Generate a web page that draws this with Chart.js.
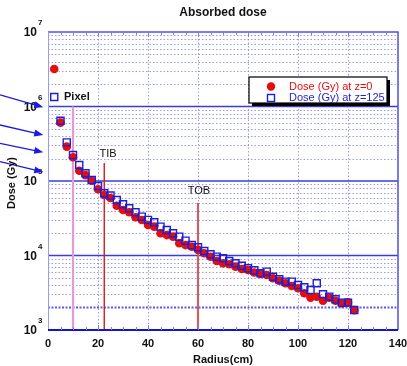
<!DOCTYPE html>
<html><head><meta charset="utf-8">
<script src="https://cdn.jsdelivr.net/npm/chart.js@4"></script>
<style>html,body{margin:0;padding:0;background:#fff}#wrap{width:407px;height:366px}</style>
</head><body><div id="wrap"><canvas id="c" width="407" height="366"></canvas></div>
<script>
const radiusCm = [2.5,5,7.5,10,12.5,15,17.5,20,22.5,25,27.5,30,32.5,35,37.5,40,42.5,45,47.5,50,52.5,55,57.5,60,62.5,65,67.5,70,72.5,75,77.5,80,82.5,85,87.5,90,92.5,95,97.5,100,102.5,105,107.5,110,112.5,115,117.5,120,122.5];
const doseZ0 = [3.18e6,6.07e5,2.89e5,2.08e5,1.37e5,1.20e5,1.01e5,7.74e4,6.49e4,5.91e4,4.66e4,4.08e4,3.80e4,3.26e4,3.00e4,2.57e4,2.44e4,1.99e4,1.88e4,1.79e4,1.46e4,1.38e4,1.31e4,1.19e4,1.07e4,9.64e3,8.44e3,7.85e3,7.62e3,7.08e3,6.59e3,6.39e3,5.91e3,5.65e3,5.47e3,4.94e3,4.59e3,4.24e3,3.90e3,3.63e3,3.11e3,2.72e3,2.80e3,2.47e3,2.72e3,2.47e3,2.28e3,2.35e3,1.85e3];
const doseZ125 = [1.34e6,6.44e5,3.30e5,2.23e5,1.64e5,1.27e5,1.03e5,8.57e4,6.84e4,6.38e4,5.56e4,4.87e4,4.30e4,3.80e4,3.32e4,3.00e4,2.79e4,2.44e4,2.20e4,1.99e4,1.79e4,1.58e4,1.38e4,1.29e4,1.15e4,1.04e4,9.64e3,9.16e3,8.44e3,7.85e3,7.29e3,6.73e3,6.33e3,5.77e3,6.07e3,5.19e3,4.80e3,4.45e3,4.45e3,4.02e3,3.74e3,3.44e3,4.24e3,3.01e3,2.80e3,2.58e3,2.33e3,2.33e3,1.85e3];
const seriesNames = ['Dose (Gy) at z=0','Dose (Gy) at z=125'];
const xTickValues = [0,20,40,60,80,100,120,140];
const yDecades = [1e3,1e4,1e5,1e6,1e7];
const yExponents = ['3','4','5','6','7'];
const detectorNames = ['Pixel','TIB','TOB'];
const detectorX = [10,22.5,60];
const detectorTop = [1e6,1.75e5,5.07e4];
const labelX = [6.4,24,60.4];
const labelY = [1.34e6,2.3e5,7.35e4];
const arrowFromY = [1.43e6,5.65e5,3.21e5,1.82e5];
const arrowToY = [9.8e5,4.14e5,2.43e5,1.32e5];
const limitDose = 2e3;

const FONT = '"Liberation Sans", Arial, Helvetica, sans-serif';
const RED = '#e60d0d', BLUE = '#1e1ed2';

const pts = (xs, ys) => xs.map((v,i)=>({x:v,y:ys[i]}));

const deco = {
  id:'deco',
  beforeDatasetsDraw(chart){
    const {ctx, chartArea:a, scales:{x,y}} = chart;
    ctx.save();
    ctx.lineWidth = 1;
    ctx.strokeStyle = 'rgba(120,120,235,0.75)';
    ctx.setLineDash([1.5,2]);
    for (let d=0; d<yDecades.length-1; d++){
      for (let m=2;m<=9;m++){
        const v = m*yDecades[d];
        if (v===limitDose) continue;
        const py = Math.round(y.getPixelForValue(v))+0.5;
        ctx.beginPath(); ctx.moveTo(a.left,py); ctx.lineTo(a.right,py); ctx.stroke();
      }
    }
    for (const v of xTickValues){
      if (v===0||v===140) continue;
      const px = Math.round(x.getPixelForValue(v))+0.5;
      ctx.beginPath(); ctx.moveTo(px,a.top); ctx.lineTo(px,a.bottom); ctx.stroke();
    }
    ctx.strokeStyle = '#5a5ae6'; ctx.lineWidth = 2; ctx.setLineDash([2,1.5]);
    let py = y.getPixelForValue(limitDose);
    ctx.beginPath(); ctx.moveTo(a.left,py); ctx.lineTo(a.right,py); ctx.stroke();
    ctx.setLineDash([]); ctx.strokeStyle = '#3c3cd8'; ctx.lineWidth = 1.5;
    for (const v of yDecades.slice(1,-1)){
      py = y.getPixelForValue(v);
      ctx.beginPath(); ctx.moveTo(a.left,py); ctx.lineTo(a.right,py); ctx.stroke();
    }
    ctx.restore();
  },
  afterDraw(chart){
    const {ctx, chartArea:a, scales:{x,y}} = chart;
    ctx.save();
    ctx.lineWidth = 1.5; ctx.strokeStyle = '#5050e0';
    ctx.beginPath(); ctx.moveTo(a.left,a.top); ctx.lineTo(a.right,a.top); ctx.lineTo(a.right,a.bottom); ctx.stroke();
    ctx.strokeStyle = '#9a9af0'; ctx.lineWidth = 1;
    ctx.beginPath(); ctx.moveTo(a.left+0.5,a.top); ctx.lineTo(a.left+0.5,a.bottom); ctx.stroke();
    ctx.strokeStyle = '#1414d0'; ctx.lineWidth = 2;
    ctx.beginPath(); ctx.moveTo(a.left,a.bottom); ctx.lineTo(a.right,a.bottom); ctx.stroke();
    ctx.lineWidth = 1; ctx.strokeStyle = '#8080e8';
    for (let v=5; v<140; v+=5){
      const px = Math.round(x.getPixelForValue(v))+0.5;
      const L = (v%20===0)?5:3;
      ctx.beginPath(); ctx.moveTo(px,a.bottom); ctx.lineTo(px,a.bottom-L); ctx.moveTo(px,a.top); ctx.lineTo(px,a.top+L); ctx.stroke();
    }
    ctx.fillStyle = '#111';
    yDecades.forEach((v,i)=>{
      const py = y.getPixelForValue(v);
      ctx.font = 'bold 12px '+FONT; ctx.textAlign='right'; ctx.textBaseline='middle';
      ctx.fillText('10', a.left-11, py+1);
      ctx.font = 'bold 8px '+FONT; ctx.textAlign='left';
      ctx.fillText(yExponents[i], a.left-10, py-9);
    });
    detectorNames.forEach((t,i)=>{
      const px = x.getPixelForValue(labelX[i]), py = y.getPixelForValue(labelY[i]);
      ctx.fillStyle = '#111';
      if (i===0){ ctx.font='bold 11px '+FONT; ctx.textAlign='left'; }
      else { ctx.font='11px '+FONT; ctx.textAlign='center'; }
      ctx.textBaseline='middle';
      ctx.fillText(t, px, py);
    });
    ctx.strokeStyle = '#1a1ae0'; ctx.fillStyle='#1a1ae0'; ctx.lineWidth=1.3;
    arrowFromY.forEach((v,i)=>{
      const x0 = x.getPixelForValue(-19.2), y0 = y.getPixelForValue(v);
      const x1 = x.getPixelForValue(-1.9), y1 = y.getPixelForValue(arrowToY[i]);
      const ang = Math.atan2(y1-y0,x1-x0);
      ctx.beginPath(); ctx.moveTo(x0,y0); ctx.lineTo(x1-6*Math.cos(ang),y1-6*Math.sin(ang)); ctx.stroke();
      ctx.beginPath(); ctx.moveTo(x1,y1);
      ctx.lineTo(x1-9*Math.cos(ang)+3.5*Math.sin(ang), y1-9*Math.sin(ang)-3.5*Math.cos(ang));
      ctx.lineTo(x1-9*Math.cos(ang)-3.5*Math.sin(ang), y1-9*Math.sin(ang)+3.5*Math.cos(ang));
      ctx.closePath(); ctx.fill();
    });
    const lx = a.left+201, ly = a.top+45, lw = 138, lh = 26;
    ctx.fillStyle='#000'; ctx.fillRect(lx+3,ly+3,lw,lh);
    ctx.fillStyle='#fff'; ctx.fillRect(lx,ly,lw,lh);
    ctx.strokeStyle='#000'; ctx.lineWidth=1.2; ctx.strokeRect(lx,ly,lw,lh);
    ctx.fillStyle=RED; ctx.beginPath(); ctx.arc(lx+22,ly+9.5,4.2,0,Math.PI*2); ctx.fill();
    ctx.strokeStyle=BLUE; ctx.lineWidth=1.4; ctx.strokeRect(lx+18.5,ly+17.5,7,7);
    ctx.font='11px '+FONT; ctx.textAlign='left'; ctx.textBaseline='middle';
    ctx.fillStyle=RED; ctx.fillText(seriesNames[0], lx+40, ly+9.5);
    ctx.fillStyle=BLUE; ctx.fillText(seriesNames[1], lx+40, ly+20.5);
    ctx.fillStyle='#111'; ctx.textAlign='center'; ctx.textBaseline='middle';
    ctx.font='bold 12px '+FONT;
    ctx.fillText('Absorbed dose', (a.left+a.right)/2, 13);
    ctx.font='bold 11px '+FONT;
    ctx.fillText('Radius(cm)', (a.left+a.right)/2, 360);
    ctx.translate(12,183); ctx.rotate(-Math.PI/2);
    ctx.fillText('Dose (Gy)', 0, 0);
    ctx.restore();
  }
};

const refDatasets = detectorX.map((xv,i)=>({
  type:'line',
  data:[{x:xv,y:detectorTop[i]},{x:xv,y:yDecades[0]}],
  borderColor:['#e49ad8','#d41c1c','#c86262'][i],
  borderWidth:[2.2,1.4,2.2][i],
  pointRadius:0, order:5, showLine:true
}));

new Chart(document.getElementById('c'), {
  type:'scatter',
  data:{datasets:[
    {label:seriesNames[0], data:pts(radiusCm,doseZ0), pointStyle:'circle', pointRadius:4.3, pointHoverRadius:4.3, backgroundColor:RED, borderColor:RED, borderWidth:0, order:2},
    {label:seriesNames[1], data:pts(radiusCm,doseZ125), pointStyle:'rect', pointRadius:5, pointHoverRadius:5, backgroundColor:'rgba(0,0,0,0)', borderColor:BLUE, borderWidth:1.4, order:1},
    ...refDatasets
  ]},
  options:{
    responsive:false, animation:false, devicePixelRatio:1,
    layout:{padding:{top:32,right:9,left:0,bottom:0}},
    plugins:{legend:{display:false}, title:{display:false}, tooltip:{enabled:false}},
    scales:{
      x:{type:'linear', min:0, max:140,
        afterBuildTicks: s => { s.ticks = xTickValues.map(v=>({value:v})); },
        afterFit: s => { s.height = 36; s.paddingLeft = 0; s.paddingRight = 0; },
        grid:{display:false, drawTicks:false}, border:{display:false},
        ticks:{padding:7, color:'#111', font:{family:FONT, size:11, weight:'bold'}, maxRotation:0}},
      y:{type:'logarithmic', min:1e3, max:1e7,
        afterFit: s => { s.width = 48; s.paddingTop = 0; s.paddingBottom = 0; },
        grid:{display:false}, border:{display:false},
        ticks:{display:false}}
    }
  },
  plugins:[deco]
});
</script></body></html>
